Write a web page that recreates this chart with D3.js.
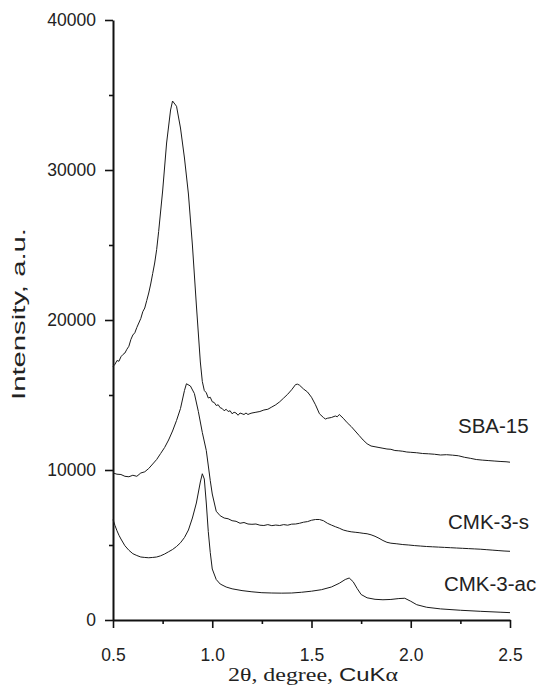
<!DOCTYPE html>
<html>
<head>
<meta charset="utf-8">
<script src="https://cdn.jsdelivr.net/npm/d3@7"></script>
<style>
  body { margin: 0; background: #fff; }
  svg { display: block; font-family: "Liberation Sans", Arial, sans-serif; }
  .axis path, .axis line { stroke: #111; }
  .axis text { fill: #222; font-family: "Liberation Sans", Arial, sans-serif; }
  .trace { fill: none; stroke: #1a1a1a; stroke-width: 1; stroke-linejoin: round; }
  .series-label { fill: #222; font-size: 20.5px; }
  .axis-title { fill: #222; }
</style>
</head>
<body>
<div class="chart-container"></div>
<script>
var totalWidth = 537;
var totalHeight = 686;
var margin = { top: 20, bottom: 66, left: 113, right: 27 };
var width = totalWidth - margin.left - margin.right;
var height = totalHeight - margin.top - margin.bottom;

// tick values
var xMajorTicks = [0.5, 1.0, 1.5, 2.0, 2.5];
var xMinorTicks = [0.75, 1.25, 1.75, 2.25];
var yMajorTicks = [0, 10000, 20000, 30000, 40000];
var yMinorTicks = [5000, 15000, 25000, 35000];

var seriesNames = ['SBA-15', 'CMK-3-s', 'CMK-3-ac'];

// SBA-15
var sbaTheta = [0.50, 0.51, 0.52, 0.53, 0.54, 0.55, 0.56, 0.57, 0.58, 0.59, 0.60, 0.61, 0.62, 0.63, 0.64, 0.65, 0.66,
  0.67, 0.68, 0.69, 0.70, 0.71, 0.72, 0.73, 0.75, 0.77, 0.79, 0.80, 0.82, 0.84, 0.86, 0.88, 0.90, 0.92, 0.94,
  0.95, 0.96, 0.97, 0.98, 0.99, 1.00, 1.01, 1.02, 1.03, 1.04, 1.05, 1.06, 1.07, 1.08, 1.09, 1.10, 1.11, 1.12,
  1.13, 1.14, 1.15, 1.16, 1.17, 1.18, 1.19, 1.20, 1.22, 1.24, 1.26, 1.28, 1.30, 1.32, 1.34, 1.36, 1.38, 1.40,
  1.42, 1.43, 1.44, 1.46, 1.48, 1.50, 1.52, 1.54, 1.56, 1.57, 1.58, 1.60, 1.62, 1.63, 1.64, 1.66, 1.68, 1.70,
  1.72, 1.74, 1.76, 1.78, 1.80, 1.82, 1.84, 1.86, 1.88, 1.90, 1.92, 1.94, 1.96, 1.98, 2.00, 2.03, 2.06, 2.09,
  2.12, 2.15, 2.18, 2.21, 2.24, 2.27, 2.30, 2.33, 2.36, 2.39, 2.42, 2.45, 2.48, 2.50];
var sbaIntensity = [16900, 17050, 17300, 17250, 17550, 17700, 17800, 18050, 18250, 18700, 19000, 19150, 19500,
  19800, 20100, 20550, 20800, 21300, 21800, 22400, 23100, 23800, 24700, 25900, 28600, 31800, 34000, 34600, 34250,
  32800, 30800, 28400, 25000, 21000, 17200, 15900, 15300, 15150, 14800, 14850, 14550, 14500, 14300, 14350, 14150,
  14100, 13950, 14050, 13900, 13950, 13750, 13850, 13800, 13650, 13800, 13750, 13700, 13800, 13700, 13760, 13800,
  13850, 13900, 14000, 14050, 14200, 14350, 14550, 14800, 15050, 15350, 15700, 15720, 15650, 15400, 15200, 14850,
  14350, 13750, 13500, 13400, 13450, 13500, 13600, 13550, 13700, 13450, 13150, 12900, 12600, 12300, 12000, 11750,
  11600, 11550, 11500, 11450, 11400, 11380, 11300, 11280, 11250, 11200, 11180, 11150, 11100, 11080, 11050, 11000,
  11020, 10990, 10950, 10850, 10780, 10700, 10660, 10630, 10600, 10570, 10550, 10520];

// CMK-3-s
var cmkSTheta = [0.50, 0.52, 0.54, 0.56, 0.58, 0.60, 0.62, 0.64, 0.66, 0.68, 0.70, 0.72, 0.74, 0.76, 0.78, 0.80,
  0.82, 0.84, 0.86, 0.87, 0.89, 0.91, 0.93, 0.95, 0.97, 0.99, 1.00, 1.02, 1.04, 1.06, 1.08, 1.10, 1.12, 1.14,
  1.16, 1.18, 1.20, 1.22, 1.24, 1.26, 1.28, 1.30, 1.32, 1.34, 1.36, 1.38, 1.40, 1.42, 1.44, 1.46, 1.48, 1.50,
  1.52, 1.54, 1.56, 1.58, 1.60, 1.62, 1.64, 1.66, 1.68, 1.70, 1.72, 1.74, 1.76, 1.78, 1.80, 1.82, 1.84, 1.86,
  1.88, 1.90, 1.93, 1.96, 1.99, 2.02, 2.05, 2.08, 2.11, 2.14, 2.17, 2.20, 2.23, 2.26, 2.29, 2.32, 2.35, 2.38,
  2.41, 2.44, 2.47, 2.50];
var cmkSIntensity = [9800, 9720, 9700, 9580, 9550, 9650, 9580, 9800, 9880, 10100, 10400, 10700, 11100, 11500,
  12000, 12600, 13300, 14100, 15300, 15750, 15600, 15100, 13900, 12500, 11300, 9300, 8400, 7250, 6950, 6800,
  6750, 6620, 6580, 6450, 6500, 6400, 6380, 6400, 6320, 6300, 6360, 6290, 6330, 6300, 6360, 6320, 6390, 6400,
  6450, 6520, 6560, 6650, 6700, 6700, 6620, 6450, 6330, 6220, 6120, 6000, 5930, 5880, 5850, 5820, 5780, 5750,
  5680, 5580, 5450, 5300, 5180, 5120, 5080, 5030, 5000, 4960, 4930, 4900, 4880, 4860, 4840, 4820, 4800, 4780,
  4760, 4740, 4720, 4690, 4660, 4630, 4600, 4580];

// CMK-3-ac
var cmkAcTheta = [0.50, 0.51, 0.52, 0.53, 0.54, 0.56, 0.58, 0.60, 0.62, 0.64, 0.66, 0.68, 0.70, 0.72, 0.74, 0.76,
  0.78, 0.80, 0.82, 0.84, 0.86, 0.88, 0.90, 0.92, 0.94, 0.95, 0.96, 0.97, 0.98, 0.99, 1.00, 1.02, 1.04, 1.07,
  1.10, 1.15, 1.20, 1.25, 1.30, 1.35, 1.40, 1.45, 1.50, 1.55, 1.60, 1.64, 1.67, 1.69, 1.71, 1.73, 1.75, 1.78,
  1.82, 1.86, 1.90, 1.94, 1.97, 2.00, 2.03, 2.08, 2.15, 2.25, 2.35, 2.45, 2.50];
var cmkAcIntensity = [6700, 6300, 5950, 5650, 5400, 4950, 4650, 4420, 4300, 4200, 4170, 4150, 4170, 4200, 4280,
  4400, 4550, 4700, 4900, 5150, 5500, 6000, 6800, 7800, 9200, 9750, 9400, 7800, 5900, 4500, 3400, 2700, 2400,
  2200, 2080, 1960, 1880, 1820, 1800, 1790, 1800, 1850, 1920, 2020, 2200, 2450, 2700, 2800, 2550, 2100, 1700,
  1480, 1380, 1350, 1370, 1430, 1450, 1250, 1020, 850, 740, 650, 580, 520, 490];

var seriesTheta = [sbaTheta, cmkSTheta, cmkAcTheta];
var seriesIntensity = [sbaIntensity, cmkSIntensity, cmkAcIntensity];

buildChart();

function buildChart() {
  var svg = d3.select('.chart-container').append('svg')
    .attr('width', totalWidth)
    .attr('height', totalHeight);

  var x = d3.scaleLinear()
    .domain([0.5, 2.5])
    .range([0, width]);

  var y = d3.scaleLinear()
    .domain([0, 40000])
    .range([height, 0]);

  var plot = svg.append('g')
    .attr('transform', `translate(${margin.left}, ${margin.top})`);

  /*
   * Axes: minor ticks first, then major ticks with labels
   */
  plot.append('g')
    .attr('class', 'axis')
    .attr('transform', `translate(0, ${height})`)
    .call(d3.axisBottom(x).tickValues(xMinorTicks).tickSize(4).tickSizeOuter(0).tickFormat(''))
    .call(g => g.select('.domain').remove());

  plot.append('g')
    .attr('class', 'axis')
    .call(d3.axisLeft(y).tickValues(yMinorTicks).tickSize(4).tickSizeOuter(0).tickFormat(''))
    .call(g => g.select('.domain').remove());

  var gX = plot.append('g')
    .attr('class', 'axis')
    .attr('transform', `translate(0, ${height})`)
    .call(d3.axisBottom(x).tickValues(xMajorTicks).tickSize(8).tickSizeOuter(0)
      .tickPadding(21).tickFormat(d3.format('.1f')));

  var gY = plot.append('g')
    .attr('class', 'axis')
    .call(d3.axisLeft(y).tickValues(yMajorTicks).tickSize(8).tickSizeOuter(0)
      .tickPadding(9).tickFormat(d3.format('d')));

  plot.selectAll('.axis line').attr('stroke-width', 1.6);
  plot.selectAll('.axis .domain').attr('stroke-width', 2);
  plot.selectAll('.axis text').attr('font-size', 17.5);

  /*
   * Traces
   */
  var line = d3.line()
    .x(d => x(d[0]))
    .y(d => y(d[1]));

  seriesTheta.forEach(function(thetas, i) {
    var pts = thetas.map((t, j) => [t, seriesIntensity[i][j]]);
    plot.append('path')
      .attr('class', 'trace')
      .attr('d', line(pts));
  });

  // series labels, placed in data coordinates
  var labelAt = [[2.238, 12470], [2.188, 6070], [2.167, 1930]];
  plot.selectAll('.series-label')
    .data(seriesNames).enter()
    .append('text')
      .attr('class', 'series-label')
      .attr('x', (d, i) => x(labelAt[i][0]))
      .attr('y', (d, i) => y(labelAt[i][1]))
      .text(d => d);

  /*
   * Axis titles
   */
  svg.append('text')
    .attr('class', 'axis-title')
    .attr('font-size', 18)
    .attr('text-anchor', 'middle')
    .attr('textLength', 172)
    .attr('lengthAdjust', 'spacingAndGlyphs')
    .attr('transform', 'translate(25, 314) rotate(-90)')
    .text('Intensity, a.u.');

  var xt = svg.append('text')
    .attr('class', 'axis-title')
    .attr('font-size', 18)
    .attr('text-anchor', 'middle')
    .attr('x', 313)
    .attr('y', 681)
    .attr('textLength', 170)
    .attr('lengthAdjust', 'spacingAndGlyphs');
  xt.append('tspan').attr('font-family', '"Liberation Serif", "Times New Roman", serif').text('2θ, degree, ');
  xt.append('tspan').attr('font-family', '"Liberation Sans", Arial, sans-serif').text('CuK');
  xt.append('tspan').attr('font-family', '"Liberation Serif", "Times New Roman", serif').text('α');
}
</script>
</body>
</html>
